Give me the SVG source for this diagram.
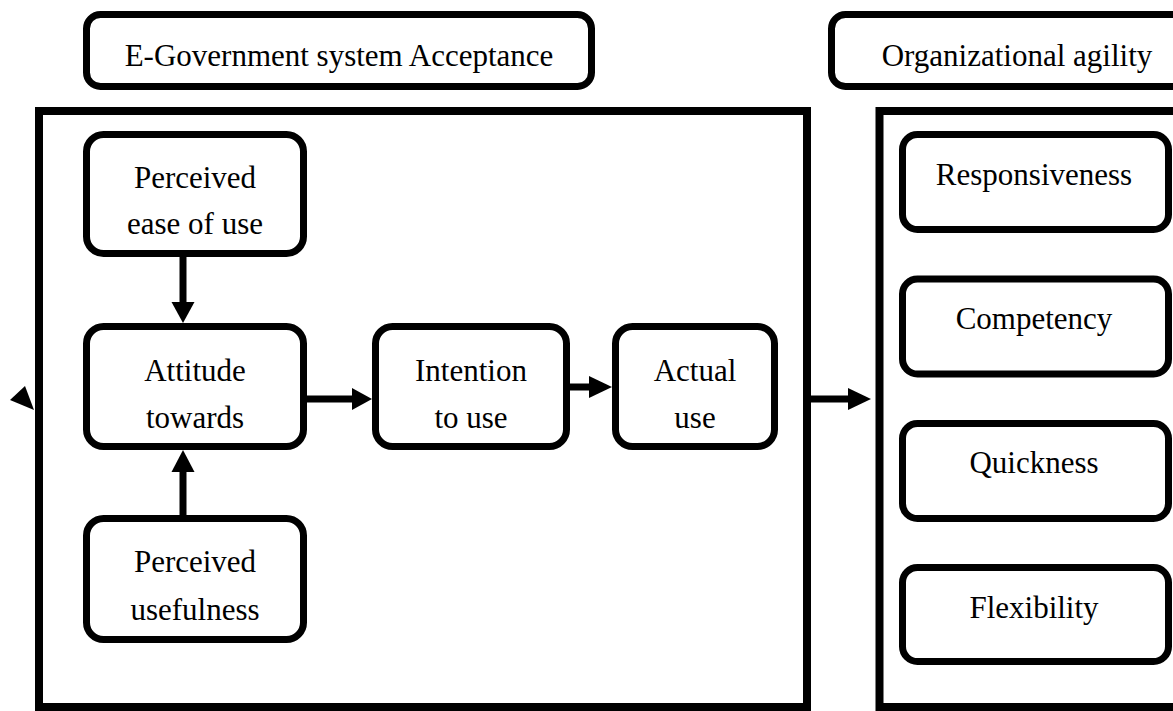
<svg xmlns="http://www.w3.org/2000/svg" width="1173" height="711" viewBox="0 0 1173 711">
  <style>
    .title { fill: #fff; stroke: #000; stroke-width: 7; }
    .frame { fill: none; stroke: #000; stroke-width: 8; }
    .node { fill: #fff; stroke: #000; stroke-width: 7; }
    .lbl { font-family: "Liberation Serif", "Times New Roman", serif; font-size: 31px; fill: #000; text-anchor: middle; }
    .shaft { stroke: #000; stroke-width: 7; fill: none; }
    .head { fill: #000; stroke: none; }
  </style>
  <rect width="1173" height="711" fill="#fff"/>

  <!-- section headings -->
  <g id="title-acceptance">
    <rect class="title" x="86.5" y="14.5" width="505" height="72" rx="14"/>
    <text class="lbl" x="339" y="66">E-Government system Acceptance</text>
  </g>
  <g id="title-agility">
    <rect class="title" x="831.5" y="14.5" width="400" height="72" rx="14"/>
    <text class="lbl" x="1017" y="66">Organizational agility</text>
  </g>

  <!-- section frames -->
  <g id="frame-acceptance">
    <rect class="frame" x="39" y="111" width="768" height="596"/>
  </g>
  <g id="frame-agility">
    <rect class="frame" x="879.5" y="111" width="400" height="596"/>
  </g>

  <!-- acceptance model -->
  <g id="node-peou">
    <rect class="node" x="86.5" y="134.5" width="217" height="119" rx="17"/>
    <text class="lbl" x="195" y="188">Perceived</text>
    <text class="lbl" x="195" y="234">ease of use</text>
  </g>
  <g id="node-attitude">
    <rect class="node" x="86.5" y="326.5" width="217" height="120" rx="17"/>
    <text class="lbl" x="195" y="381">Attitude</text>
    <text class="lbl" x="195" y="428">towards</text>
  </g>
  <g id="node-pu">
    <rect class="node" x="86.5" y="518.5" width="217" height="121" rx="17"/>
    <text class="lbl" x="195" y="572">Perceived</text>
    <text class="lbl" x="195" y="620">usefulness</text>
  </g>
  <g id="node-intention">
    <rect class="node" x="375.5" y="326.5" width="191" height="120" rx="17"/>
    <text class="lbl" x="471" y="381">Intention</text>
    <text class="lbl" x="471" y="428">to use</text>
  </g>
  <g id="node-actual">
    <rect class="node" x="615.5" y="326.5" width="159" height="120" rx="17"/>
    <text class="lbl" x="695" y="381">Actual</text>
    <text class="lbl" x="695" y="428">use</text>
  </g>

  <!-- agility dimensions -->
  <g id="node-responsiveness">
    <rect class="node" x="902.5" y="134.5" width="266" height="95" rx="15"/>
    <text class="lbl" x="1034" y="185">Responsiveness</text>
  </g>
  <g id="node-competency">
    <rect class="node" x="902.5" y="279" width="266" height="95" rx="15"/>
    <text class="lbl" x="1034" y="329">Competency</text>
  </g>
  <g id="node-quickness">
    <rect class="node" x="902.5" y="423.5" width="266" height="95" rx="15"/>
    <text class="lbl" x="1034" y="473">Quickness</text>
  </g>
  <g id="node-flexibility">
    <rect class="node" x="902.5" y="567.5" width="266" height="94" rx="15"/>
    <text class="lbl" x="1034" y="618">Flexibility</text>
  </g>

  <!-- connectors -->
  <g id="connectors">
    <line class="shaft" x1="183" y1="257" x2="183" y2="303"/>
    <polygon class="head" points="171.5,302 194.5,302 183,323"/>

    <line class="shaft" x1="183" y1="515" x2="183" y2="471"/>
    <polygon class="head" points="171.5,472 194.5,472 183,450"/>

    <line class="shaft" x1="307" y1="399" x2="353" y2="399"/>
    <polygon class="head" points="352,388 352,410 372,399"/>

    <line class="shaft" x1="570" y1="387" x2="590" y2="387"/>
    <polygon class="head" points="589,376 589,398 612,387"/>

    <line class="shaft" x1="811" y1="399" x2="849" y2="399"/>
    <polygon class="head" points="848,388 848,410 871,399"/>

    <polygon class="head" points="10,400 25,386 34,410"/>
  </g>
</svg>
